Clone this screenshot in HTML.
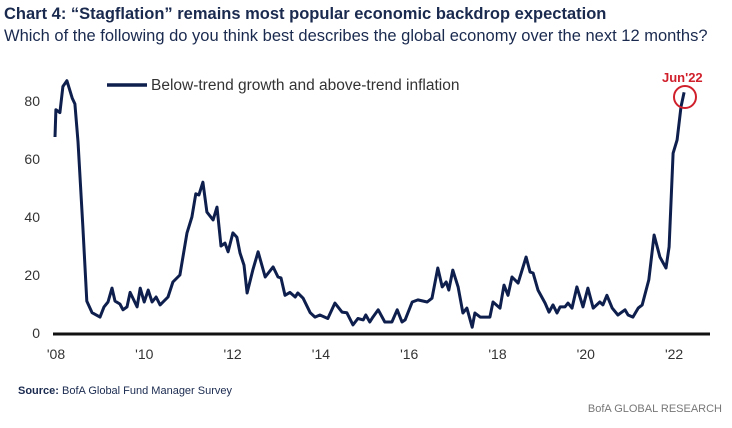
<!DOCTYPE html>
<html><head><meta charset="utf-8"><style>
body{margin:0;background:#fff;width:732px;height:423px;overflow:hidden;font-family:"Liberation Sans",sans-serif}
</style></head><body>
<svg width="732" height="423" font-family="Liberation Sans, sans-serif">
<text x="4" y="19" font-size="16.5" font-weight="bold" fill="#1a2a4f">Chart 4: “Stagflation” remains most popular economic backdrop expectation</text>
<text x="4" y="41" font-size="16.5" fill="#1a2a4f">Which of the following do you think best describes the global economy over the next 12 months?</text>
<g id="yax"></g>
<g id="xax"></g>
<line x1="107" y1="85" x2="147" y2="85" stroke="#0e1f4d" stroke-width="3.5"/>
<text x="151" y="90" font-size="15.5" fill="#333">Below-trend growth and above-trend inflation</text>
<path id="ln" fill="none" stroke="#0e1f4d" stroke-width="3" stroke-linejoin="round"/>
<text x="662" y="82" font-size="13" font-weight="bold" fill="#d0202c">Jun'22</text>
<circle cx="685" cy="97" r="11" fill="none" stroke="#d0202c" stroke-width="2"/>
<text x="18" y="394" font-size="11" fill="#1a2a4f"><tspan font-weight="bold">Source:</tspan> BofA Global Fund Manager Survey</text>
<text x="722" y="412" font-size="11" fill="#777" text-anchor="end">BofA GLOBAL RESEARCH</text>
</svg>
<script>
const dates=[2008.0,2008.02,2008.11,2008.18,2008.27,2008.39,2008.45,2008.52,2008.63,2008.72,2008.84,2009.02,2009.11,2009.2,2009.29,2009.36,2009.47,2009.54,2009.63,2009.7,2009.86,2009.93,2010.02,2010.11,2010.2,2010.29,2010.38,2010.56,2010.67,2010.83,2010.99,2011.1,2011.19,2011.26,2011.35,2011.44,2011.58,2011.67,2011.76,2011.85,2011.92,2012.03,2012.12,2012.19,2012.28,2012.35,2012.48,2012.6,2012.76,2012.94,2013.05,2013.12,2013.21,2013.32,2013.44,2013.5,2013.62,2013.78,2013.89,2014.0,2014.18,2014.34,2014.5,2014.61,2014.75,2014.86,2014.98,2015.04,2015.13,2015.2,2015.32,2015.47,2015.63,2015.75,2015.86,2015.93,2016.09,2016.22,2016.43,2016.54,2016.67,2016.77,2016.86,2016.92,2017.01,2017.13,2017.24,2017.33,2017.45,2017.51,2017.63,2017.74,2017.85,2017.92,2018.08,2018.17,2018.26,2018.35,2018.49,2018.67,2018.76,2018.83,2018.94,2019.1,2019.19,2019.28,2019.37,2019.44,2019.55,2019.62,2019.71,2019.82,2019.96,2020.07,2020.19,2020.34,2020.41,2020.5,2020.62,2020.75,2020.91,2020.98,2021.09,2021.21,2021.3,2021.45,2021.57,2021.7,2021.84,2021.91,2022.0,2022.09,2022.18,2022.25];
const values=[67.6,77,76,85,87,81,79,66,37,11,7,5.5,9,10.7,15.5,11,10,8,9,14,9,15.5,10.7,14.8,10.7,12.4,9.7,12.4,17.6,20,34.5,40,48,47.6,52,41.7,39,43.4,30,31,28,34.5,33,27.6,23.4,13.8,21.7,28,19.3,22.8,19.3,19,13,14,12.4,13.8,12,7,5.5,6.2,5,10.3,7.2,7,2.8,5,4.5,6.2,3.8,5.5,8,3.8,3.8,8,3.8,4.5,10.7,11.4,10.7,12,22.4,15.9,17.6,14.8,21.7,15.9,6.9,8.6,2,6.9,5.5,5.5,5.5,10.7,8.6,16.5,13,19.3,17.2,26.2,21,20.7,14.8,10.3,7.2,9.7,6.9,9,9,10.3,8.6,15.9,9,15.5,8.6,10.7,9.7,13,8.6,6.2,8,6.2,5.5,8.6,9.7,18.3,33.8,26.2,22.4,29.7,62,66.6,78,83];
const yTicks=[0,20,40,60,80];
const xTicks=[2008,2010,2012,2014,2016,2018,2020,2022];
const xTickLabels=["'08","'10","'12","'14","'16","'18","'20","'22"];
const X=d=>55+(d-2008)*44.15;
const Y=v=>333-v*2.9;
const NS='http://www.w3.org/2000/svg';
const yax=document.getElementById('yax'),xax=document.getElementById('xax');
yTicks.forEach(t=>{const e=document.createElementNS(NS,'text');
e.setAttribute('x',40);e.setAttribute('y',Y(t)+5);e.setAttribute('text-anchor','end');e.setAttribute('font-size','14');e.setAttribute('fill','#333');


e.textContent=t;yax.appendChild(e);});
const al=document.createElementNS(NS,'line');
al.setAttribute('x1',53);al.setAttribute('x2',710);al.setAttribute('y1',334);al.setAttribute('y2',334);al.setAttribute('stroke','#111');al.setAttribute('stroke-width','3');


xax.appendChild(al);
xTicks.forEach((t,i)=>{const e=document.createElementNS(NS,'text');
e.setAttribute('x',X(t)+1);e.setAttribute('y',359);e.setAttribute('text-anchor','middle');e.setAttribute('font-size','14');e.setAttribute('fill','#333');


e.textContent=xTickLabels[i];xax.appendChild(e);});
document.getElementById('ln').setAttribute('d',dates.map((d,i)=>(i?'L':'M')+X(d).toFixed(1)+','+Y(values[i]).toFixed(1)).join(''));
</script>
</body></html>
